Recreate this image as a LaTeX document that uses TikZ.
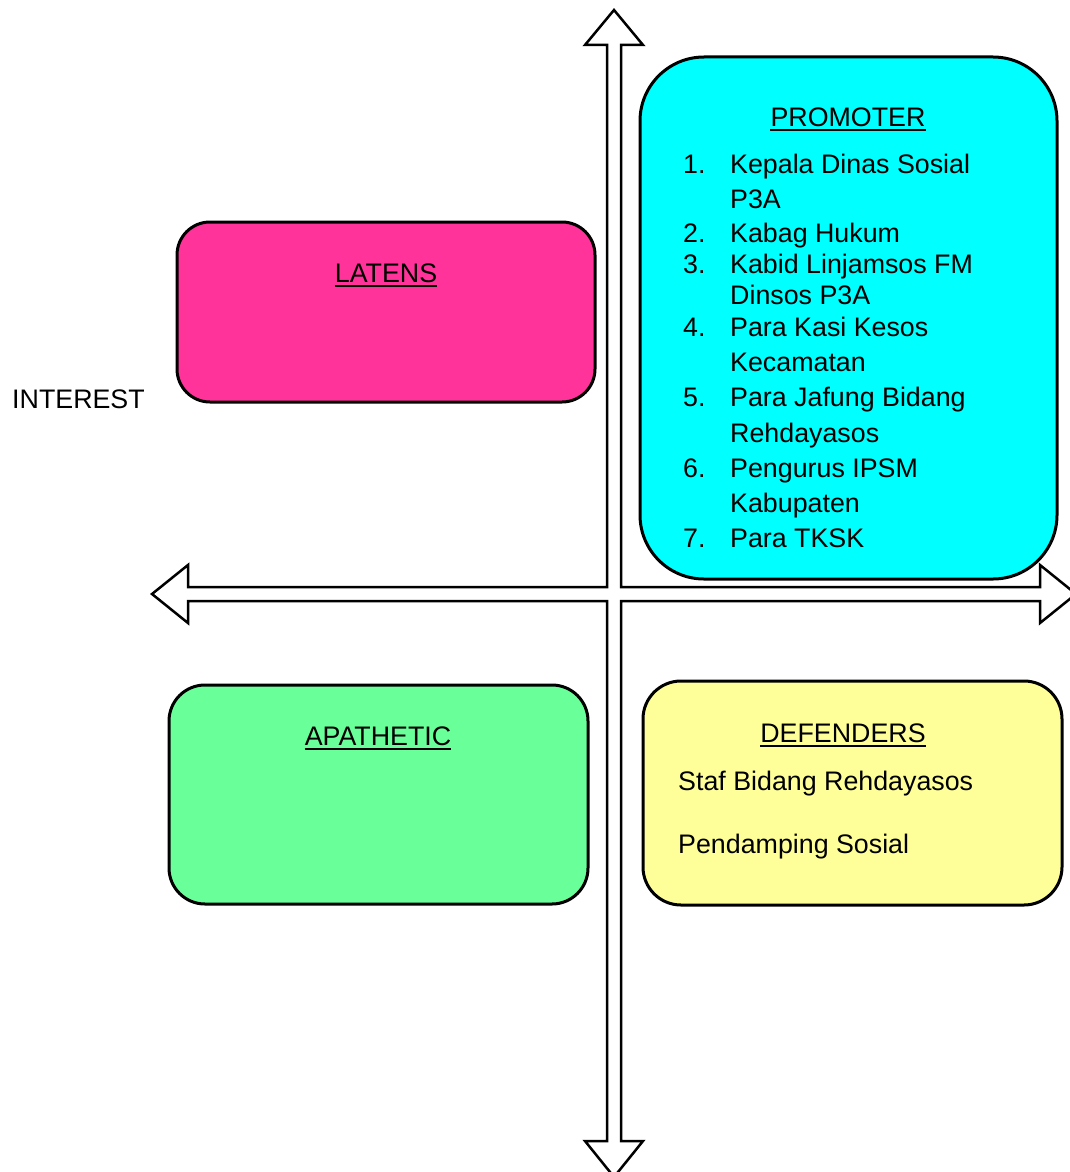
\documentclass[tikz,border=0pt]{standalone}
\usepackage{fontspec}
\setmainfont{Liberation Sans}
\definecolor{promcyan}{HTML}{00FFFF}
\definecolor{latpink}{HTML}{FF3399}
\definecolor{apagreen}{HTML}{69FF99}
\definecolor{defyellow}{HTML}{FFFF99}
\begin{document}
\begin{tikzpicture}[x=1pt,y=-1pt,
  quad/.style={draw=black,line width=3pt,rectangle,inner sep=0pt},
  txt/.style={inner sep=0pt,font=\fontsize{26.8}{32}\selectfont},
  ttl/.style={txt,anchor=base},
  lst/.style={txt,anchor=base west},
  ulin/.style={line width=2pt}]
\useasboundingbox (0,0) rectangle (1070,1172);
% cross-shaped double arrow
\draw[line width=2.5pt,fill=white,line join=miter]
  (614,10) -- (643,45) -- (621,45) -- (621,587) -- (1040,587) -- (1040,565)
  -- (1076,594) -- (1040,623) -- (1040,601) -- (621,601) -- (621,1141)
  -- (643,1141) -- (614,1177) -- (585,1141) -- (607,1141) -- (607,601)
  -- (188,601) -- (188,623) -- (152,594) -- (188,565) -- (188,587)
  -- (607,587) -- (607,45) -- (585,45) -- cycle;
% boxes
\node[quad,fill=latpink,rounded corners=33pt,minimum width=418pt,minimum height=180pt] (latens) at (386,312) {};
\node[quad,fill=promcyan,rounded corners=64pt,minimum width=417pt,minimum height=522pt] (promoter) at (848.5,318) {};
\node[quad,fill=apagreen,rounded corners=36pt,minimum width=419pt,minimum height=219pt] (apathetic) at (378.5,794.5) {};
\node[quad,fill=defyellow,rounded corners=38pt,minimum width=419pt,minimum height=224pt] (defenders) at (852.5,793) {};
% titles
\node[ttl] (tlat) at (386,282) {LATENS};
\draw[ulin] ([yshift=-4pt]tlat.base west) -- ([yshift=-4pt]tlat.base east);
\node[ttl] (tprom) at (848,126) {PROMOTER};
\draw[ulin] ([yshift=-4pt]tprom.base west) -- ([yshift=-4pt]tprom.base east);
\node[ttl] (tapa) at (378,745) {APATHETIC};
\draw[ulin] ([yshift=-4pt]tapa.base west) -- ([yshift=-4pt]tapa.base east);
\node[ttl] (tdef) at (843,742) {DEFENDERS};
\draw[ulin] ([yshift=-4pt]tdef.base west) -- ([yshift=-4pt]tdef.base east);
% interest
\node[lst] (interest) at (12,408) {INTEREST};
% promoter list
\node[lst] (n1) at (683,173) {1.};
\node[lst] (l1a) at (730,173) {Kepala Dinas Sosial};
\node[lst] (l1b) at (730,208) {P3A};
\node[lst] (n2) at (683,242) {2.};
\node[lst] (l2a) at (730,242) {Kabag Hukum};
\node[lst] (n3) at (683,273) {3.};
\node[lst] (l3a) at (730,273) {Kabid Linjamsos FM};
\node[lst] (l3b) at (730,304) {Dinsos P3A};
\node[lst] (n4) at (683,336) {4.};
\node[lst] (l4a) at (730,336) {Para Kasi Kesos};
\node[lst] (l4b) at (730,371) {Kecamatan};
\node[lst] (n5) at (683,406) {5.};
\node[lst] (l5a) at (730,406) {Para Jafung Bidang};
\node[lst] (l5b) at (730,442) {Rehdayasos};
\node[lst] (n6) at (683,477) {6.};
\node[lst] (l6a) at (730,477) {Pengurus IPSM};
\node[lst] (l6b) at (730,512) {Kabupaten};
\node[lst] (n7) at (683,547) {7.};
\node[lst] (l7a) at (730,547) {Para TKSK};
% defenders list
\node[lst] (d1) at (678,790) {Staf Bidang Rehdayasos};
\node[lst] (d2) at (678,853) {Pendamping Sosial};
\end{tikzpicture}
\end{document}
